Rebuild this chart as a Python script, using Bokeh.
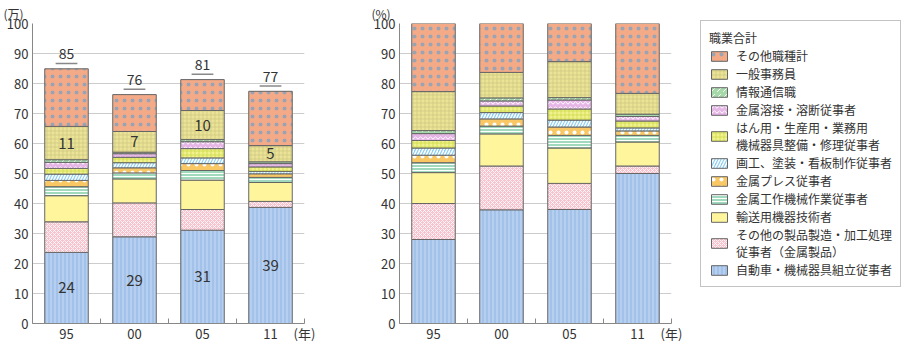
from bokeh.plotting import figure
from bokeh.models import (ColumnDataSource, FixedTicker, Range1d, Legend, LegendItem)
from bokeh.layouts import row
from bokeh.embed import file_html
from bokeh.resources import INLINE
from bokeh.core.properties import value

FONT = "Noto Sans CJK JP"

# ---------------- data ----------------
years = ["95", "00", "05", "11"]

# left chart (万人)
car = [23.7, 28.9, 31.1, 38.7]            # 自動車・機械器具組立従事者
other_prod = [10.2, 11.3, 6.9, 2.0]       # その他の製品製造・加工処理従事者（金属製品）
transport = [8.7, 8.0, 9.8, 6.3]          # 輸送用機器技術者
machine_tool = [3.0, 2.0, 3.2, 1.7]       # 金属工作機械作業従事者
press = [2.1, 1.7, 2.3, 1.2]              # 金属プレス従事者
painting = [2.1, 1.7, 1.9, 0.8]           # 画工、塗装・看板制作従事者
maintenance = [1.9, 1.8, 3.1, 1.5]        # はん用・生産用・業務用機械器具整備・修理従事者
welding = [2.0, 1.2, 2.3, 1.1]            # 金属溶接・溶断従事者
it_work = [0.9, 0.5, 0.7, 0.6]            # 情報通信職
clerical = [11.1, 6.9, 9.7, 5.4]          # 一般事務員
other_occ = [19.2, 12.3, 10.3, 18.1]      # その他職種計

total_labels = ["85", "76", "81", "77"]
total_values = [84.9, 76.3, 81.3, 77.4]
car_labels = ["24", "29", "31", "39"]
clerical_labels = ["11", "7", "10", "5"]

# right chart (%)
car_pct = [28.0, 37.9, 38.0, 50.0]
other_prod_pct = [12.0, 14.6, 8.7, 2.5]
transport_pct = [10.3, 10.7, 11.8, 8.0]
machine_tool_pct = [3.3, 2.6, 4.2, 2.2]
press_pct = [2.5, 2.4, 2.8, 1.5]
painting_pct = [2.4, 2.1, 2.3, 1.0]
maintenance_pct = [2.5, 2.2, 3.7, 2.3]
welding_pct = [2.3, 1.7, 3.0, 1.5]
it_pct = [1.0, 1.0, 0.8, 0.8]
clerical_pct = [13.0, 8.5, 12.0, 6.9]
other_occ_pct = [22.7, 16.3, 12.7, 23.3]

names = [
    "自動車・機械器具組立従事者",
    "その他の製品製造・加工処理\n従事者（金属製品）",
    "輸送用機器技術者",
    "金属工作機械作業従事者",
    "金属プレス従事者",
    "画工、塗装・看板制作従事者",
    "はん用・生産用・業務用\n機械器具整備・修理従事者",
    "金属溶接・溶断従事者",
    "情報通信職",
    "一般事務員",
    "その他職種計",
]
y_ticks = [0, 10, 20, 30, 40, 50, 60, 70, 80, 90, 100]

# ---------------- styles ----------------
keys = ["car", "other_prod", "transport", "machine_tool", "press", "painting",
        "maintenance", "welding", "it_work", "clerical", "other_occ"]
fills = ["#a3c2ea", "#f7c3ce", "#fff59d", "#a0d9bb", "#f9c865", "#8fd0f2",
         "#f1f190", "#e6b6e6", "#a6d9aa", "#ebe497", "#f4aa87"]
hatches = ["|", "x", " ", "-", ".", "/", "+", "v", ",", "+", "."]
hatch_colors = ["#c9dcf5", "#ffffff", "#ffffff", "#ffffff", "#ffffff", "#ffffff",
                "#cddc45", "#ffffff", "#ffffff", "#cbc47c", "#98a4b4"]
hatch_scales = [4, 4, 6, 3, 8, 6, 4, 5, 6, 4, 8]
hatch_weights = [1, 0.8, 1, 1, 2, 1.5, 0.8, 1, 1, 0.7, 1.0]

x_pos = [i + 0.5 for i in range(len(years))]
tick_overrides = {x: y for x, y in zip(x_pos, years)}
tick_overrides[float(len(years))] = "(年)"


def base_fig(border_left, border_right, unit, unit_offset):
    p = figure(frame_width=272, frame_height=300, output_backend="svg",
               toolbar_location=None, x_range=Range1d(0, len(years)),
               y_range=Range1d(0, 100), min_border_left=border_left,
               min_border_right=border_right, min_border_top=23,
               min_border_bottom=21, title=unit)
    p.title.align = "left"
    p.title.offset = unit_offset
    p.title.standoff = 4
    p.title.text_font = FONT
    p.title.text_font_size = "12px"
    p.title.text_font_style = "normal"
    p.title.text_color = "#333333"
    p.outline_line_color = None
    p.background_fill_color = "white"
    p.xgrid.grid_line_color = None
    p.ygrid.grid_line_color = "#cccccc"
    p.ygrid.ticker = FixedTicker(ticks=y_ticks)
    p.yaxis.ticker = FixedTicker(ticks=y_ticks)
    p.yaxis.major_tick_line_color = None
    p.yaxis.major_tick_out = 0
    p.yaxis.major_tick_in = 0
    p.yaxis.minor_tick_line_color = None
    p.yaxis.axis_line_color = "#888888"
    p.yaxis.major_label_standoff = 4
    p.xaxis.ticker = FixedTicker(ticks=x_pos + [float(len(years))],
                                 minor_ticks=list(range(len(years) + 1)))
    p.xaxis.major_label_overrides = tick_overrides
    p.xaxis.major_tick_line_color = None
    p.xaxis.major_tick_out = 0
    p.xaxis.major_tick_in = 0
    p.xaxis.minor_tick_in = 5
    p.xaxis.minor_tick_out = 0
    p.xaxis.minor_tick_line_color = "#888888"
    p.xaxis.axis_line_color = "#888888"
    p.xaxis.major_label_standoff = 0
    for ax in (p.xaxis, p.yaxis):
        ax.major_label_text_font = FONT
        ax.major_label_text_font_size = "13px"
        ax.major_label_text_color = "#333333"
    return p


def add_stack(p, data):
    src = ColumnDataSource(dict(x=x_pos, **data))
    rs = p.vbar_stack(keys, x="x", width=0.64, source=src,
                      fill_color=fills, line_color="#666666", line_width=1,
                      hatch_pattern=hatches, hatch_color=hatch_colors,
                      hatch_scale=hatch_scales, hatch_weight=hatch_weights)
    return rs, src


# ---------------- left chart ----------------
p1 = base_fig(32, 26, "(万)", -29)
data1 = dict(car=car, other_prod=other_prod, transport=transport,
             machine_tool=machine_tool, press=press, painting=painting,
             maintenance=maintenance, welding=welding, it_work=it_work,
             clerical=clerical, other_occ=other_occ)
add_stack(p1, data1)

car_mid = [c / 2 for c in car]
cl_bottom = [sum(v) for v in zip(car, other_prod, transport, machine_tool, press,
                                  painting, maintenance, welding, it_work)]
cl_mid = [b + c / 2 for b, c in zip(cl_bottom, clerical)]
lab_src = ColumnDataSource(dict(x=x_pos + x_pos, y=car_mid + cl_mid,
                                t=car_labels + clerical_labels))
p1.text(x="x", y="y", text="t", source=lab_src, text_align="center",
        text_baseline="middle", text_font=value(FONT), text_font_size="15px",
        text_color="#333333")

tot_src = ColumnDataSource(dict(x=x_pos, x0=[x - 0.16 for x in x_pos],
                                x1=[x + 0.16 for x in x_pos],
                                yl=[t + 1.8 for t in total_values],
                                yt=[t + 5.0 for t in total_values],
                                t=total_labels))
p1.segment(x0="x0", y0="yl", x1="x1", y1="yl", source=tot_src,
           line_color="#888888", line_width=1.5)
p1.text(x="x", y="yt", text="t", source=tot_src, text_align="center",
        text_baseline="middle", text_font=value(FONT), text_font_size="14px",
        text_color="#333333")

# ---------------- right chart ----------------
p2 = base_fig(69, 235, "(%)", -28)
data2 = dict(car=car_pct, other_prod=other_prod_pct, transport=transport_pct,
             machine_tool=machine_tool_pct, press=press_pct,
             painting=painting_pct, maintenance=maintenance_pct,
             welding=welding_pct, it_work=it_pct, clerical=clerical_pct,
             other_occ=other_occ_pct)
rs2, _ = add_stack(p2, data2)

items = [LegendItem(label=n, renderers=[r]) for n, r in zip(names, rs2)][::-1]
legend = Legend(items=items, location=(29, 36), title="職業合計",
                title_text_font=FONT, title_text_font_size="12px",
                title_text_font_style="normal", title_text_color="#333333",
                title_standoff=1,
                label_text_font=FONT, label_text_font_size="12px",
                label_text_color="#333333", glyph_width=20, glyph_height=12,
                label_height=16, label_standoff=7, spacing=1, padding=8,
                margin=0, border_line_color="#888888", border_line_width=1,
                background_fill_color="white", background_fill_alpha=1.0)
p2.add_layout(legend, "right")

layout = row(p1, p2)
open("out.html", "w").write(file_html(layout, INLINE))
